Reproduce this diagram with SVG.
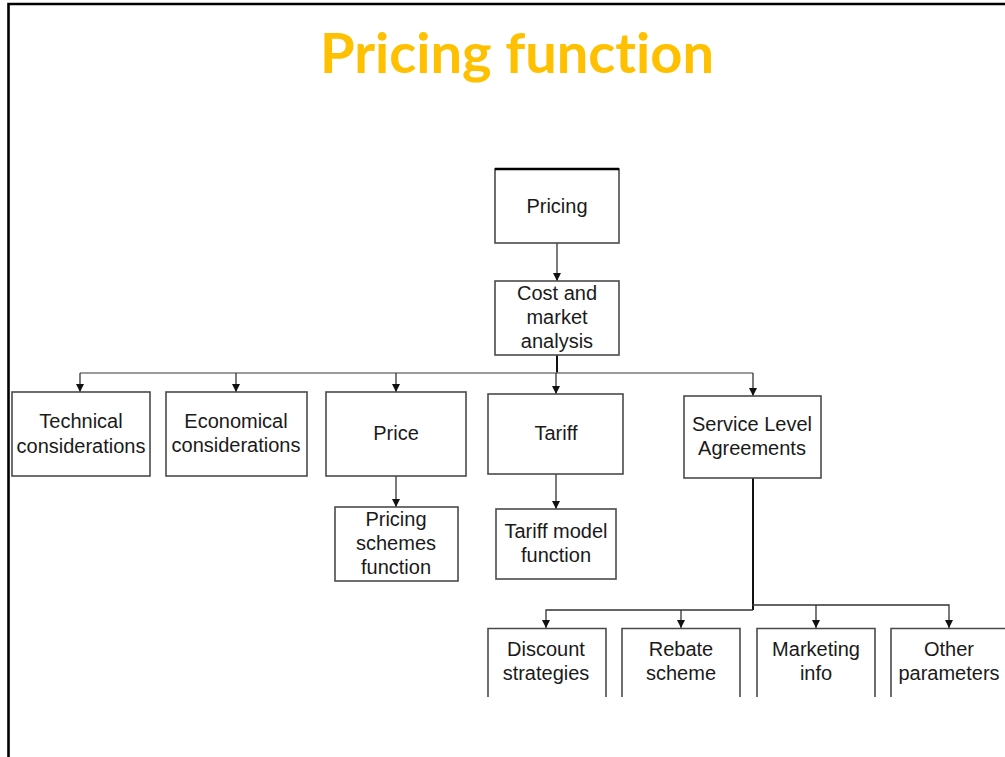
<svg xmlns="http://www.w3.org/2000/svg" width="1005" height="757" viewBox="0 0 1005 757">
<defs>
<marker id="arr" markerUnits="userSpaceOnUse" markerWidth="9" markerHeight="9" refX="8" refY="4.5" orient="auto" viewBox="0 0 9 9">
<path d="M0 0.5 L8 4.5 L0 8.5 Z" fill="#111"/>
</marker>
<style>
.box{fill:#fff;stroke:#4a4a4a;stroke-width:1.6}
.open{fill:none;stroke:#4a4a4a;stroke-width:1.6}
.t{font-family:"Liberation Sans",Arial,sans-serif;font-size:20px;fill:#1a1a1a;text-anchor:middle}
.c{fill:none;stroke:#333;stroke-width:1.3}
.bus{fill:none;stroke:#7a7a7a;stroke-width:1.4}
.trunk{fill:none;stroke:#111;stroke-width:2}
</style>
</defs>
<rect x="0" y="0" width="1005" height="757" fill="#fff"/>
<path d="M8.5 757 V4 H1005" fill="none" stroke="#000" stroke-width="2.6"/>
<text x="517" y="73" font-family="Lato,'Open Sans',sans-serif" font-weight="bold" font-size="55" fill="#FFC000" text-anchor="middle" textLength="394" lengthAdjust="spacingAndGlyphs" style="font-variant-ligatures:none">Pricing function</text>

<g id="connectors">
<path class="c" d="M557 243 V281" marker-end="url(#arr)"/>
<path class="trunk" d="M557 355 V373"/>
<path class="bus" d="M80 373 H753"/>
<path class="c" d="M80 373 V392" marker-end="url(#arr)"/>
<path class="c" d="M236 373 V392" marker-end="url(#arr)"/>
<path class="c" d="M396 373 V392" marker-end="url(#arr)"/>
<path class="c" d="M556 373 V394" marker-end="url(#arr)"/>
<path class="c" d="M753 373 V396" marker-end="url(#arr)"/>
<path class="c" d="M396 476 V507" marker-end="url(#arr)"/>
<path class="c" d="M556 474 V509" marker-end="url(#arr)"/>
<path class="trunk" d="M753 478 V610"/>
<path class="c" d="M753 610 H546 V628" marker-end="url(#arr)"/>
<path class="c" d="M681 610 V628" marker-end="url(#arr)"/>
<path class="c" d="M752 605 H949 V628" marker-end="url(#arr)"/>
<path class="c" d="M816 605 V628" marker-end="url(#arr)"/>
</g>

<g id="pricing">
<rect class="box" x="495" y="169" width="124" height="74"/>
<path d="M495 169 H619" stroke="#000" stroke-width="2.4"/>
<text class="t" x="557" y="213">Pricing</text>
</g>
<g id="cost">
<rect class="box" x="495" y="281" width="124" height="74"/>
<text class="t" x="557" y="300">Cost and</text>
<text class="t" x="557" y="324">market</text>
<text class="t" x="557" y="348">analysis</text>
</g>
<g id="technical">
<rect class="box" x="12" y="392" width="138" height="84"/>
<text class="t" x="81" y="428">Technical</text>
<text class="t" x="81" y="453">considerations</text>
</g>
<g id="economical">
<rect class="box" x="166" y="392" width="141" height="84"/>
<text class="t" x="236" y="428">Economical</text>
<text class="t" x="236" y="452">considerations</text>
</g>
<g id="price">
<rect class="box" x="326" y="392" width="140" height="84"/>
<text class="t" x="396" y="440">Price</text>
</g>
<g id="tariff">
<rect class="box" x="488" y="394" width="135" height="80"/>
<text class="t" x="556" y="440">Tariff</text>
</g>
<g id="sla">
<rect class="box" x="684" y="396" width="137" height="82"/>
<text class="t" x="752" y="431">Service Level</text>
<text class="t" x="752" y="455">Agreements</text>
</g>
<g id="pricing-schemes">
<rect class="box" x="335" y="507" width="123" height="74"/>
<text class="t" x="396" y="526">Pricing</text>
<text class="t" x="396" y="550">schemes</text>
<text class="t" x="396" y="574">function</text>
</g>
<g id="tariff-model">
<rect class="box" x="496" y="509" width="120" height="70"/>
<text class="t" x="556" y="538">Tariff model</text>
<text class="t" x="556" y="562">function</text>
</g>
<g id="discount">
<path class="open" d="M488 697 V628.5 H606 V697"/>
<text class="t" x="546" y="656">Discount</text>
<text class="t" x="546" y="680">strategies</text>
</g>
<g id="rebate">
<path class="open" d="M622 697 V628.5 H740 V697"/>
<text class="t" x="681" y="656">Rebate</text>
<text class="t" x="681" y="680">scheme</text>
</g>
<g id="marketing">
<path class="open" d="M757 697 V628.5 H875 V697"/>
<text class="t" x="816" y="656">Marketing</text>
<text class="t" x="816" y="680">info</text>
</g>
<g id="other">
<path class="open" d="M891 697 V628.5 H1005"/>
<text class="t" x="949" y="656">Other</text>
<text class="t" x="949" y="680">parameters</text>
</g>
</svg>
